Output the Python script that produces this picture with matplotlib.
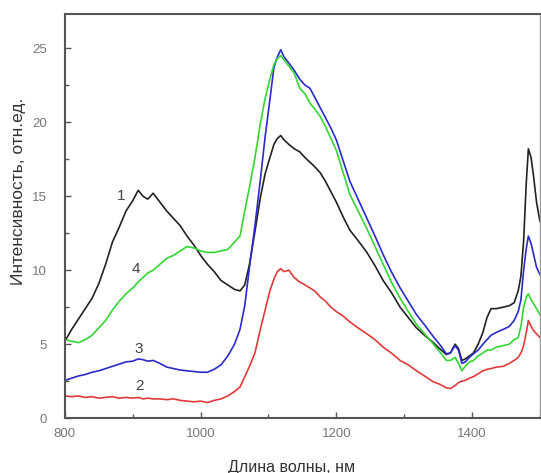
import matplotlib
matplotlib.use("Agg")
import matplotlib.pyplot as plt
from matplotlib.ticker import MultipleLocator

wavelength = [800, 810, 820, 830, 840, 850, 860, 870, 880, 890,
              900, 908, 915, 922, 930, 940, 950, 960, 970, 980,
              990, 1000, 1010, 1020, 1030, 1040, 1050, 1058, 1065, 1072,
              1080, 1088, 1095, 1102, 1108, 1113, 1118, 1123, 1130, 1138,
              1146, 1154, 1161, 1168, 1176, 1184, 1192, 1200, 1210, 1220,
              1232, 1245, 1257, 1269, 1281, 1294, 1306, 1318, 1330, 1343,
              1352, 1362, 1368, 1375, 1380, 1385, 1390, 1396, 1402, 1409,
              1416, 1422, 1428, 1436, 1446, 1455, 1462, 1468, 1472, 1476,
              1480, 1483, 1487, 1491, 1495, 1500]

curve1 = [5.2, 6.0, 6.7, 7.4, 8.1, 9.1, 10.4, 11.9, 12.9, 14.0,
          14.7, 15.4, 15.0, 14.8, 15.2, 14.6, 14.0, 13.5, 13.0, 12.3,
          11.7, 11.0, 10.4, 9.9, 9.3, 9.0, 8.7, 8.6, 9.0, 10.4,
          12.6, 14.9, 16.5, 17.6, 18.5, 18.9, 19.1, 18.8, 18.5, 18.2,
          18.0, 17.6, 17.3, 17.0, 16.6, 16.0, 15.3, 14.6, 13.6, 12.7,
          12.0, 11.2, 10.3, 9.3, 8.5, 7.5, 6.8, 6.1, 5.6, 5.1,
          4.7, 4.3, 4.4, 5.0, 4.7, 3.9, 4.0, 4.2, 4.4, 5.0,
          5.8, 6.8, 7.4, 7.4, 7.5, 7.6, 7.8, 8.6, 9.6, 12.0,
          16.0, 18.2, 17.6, 16.2, 14.6, 13.3]

curve2 = [1.5, 1.45, 1.5, 1.4, 1.45, 1.35, 1.4, 1.45, 1.35, 1.4,
          1.35, 1.4, 1.3, 1.35, 1.3, 1.3, 1.25, 1.3, 1.2, 1.15,
          1.1, 1.15, 1.05, 1.2, 1.3, 1.5, 1.8, 2.1, 2.8, 3.5,
          4.4, 6.0, 7.3, 8.6, 9.4, 9.9, 10.1, 9.9, 10.0, 9.5,
          9.2, 9.0, 8.8, 8.6, 8.2, 7.9, 7.5, 7.2, 6.9, 6.5,
          6.1, 5.7, 5.3, 4.8, 4.4, 3.9, 3.6, 3.2, 2.85, 2.45,
          2.3, 2.05, 2.0, 2.2, 2.4, 2.5, 2.55, 2.7, 2.8, 3.0,
          3.2, 3.3, 3.35, 3.45, 3.5, 3.7, 3.9, 4.1, 4.4, 4.9,
          5.8, 6.6, 6.2, 5.9, 5.7, 5.45]

curve3 = [2.55, 2.7, 2.85, 2.95, 3.1, 3.2, 3.35, 3.5, 3.65, 3.8,
          3.85, 4.0, 3.95, 3.85, 3.9, 3.7, 3.45, 3.35, 3.25, 3.2,
          3.15, 3.1, 3.1, 3.3, 3.6, 4.2, 5.0, 6.0, 7.6, 10.2,
          13.0, 16.1, 19.0, 21.5, 23.7, 24.4, 24.9, 24.4, 24.0, 23.5,
          22.9, 22.5, 22.3, 21.7, 21.0, 20.3, 19.6, 18.8, 17.4, 16.0,
          14.8, 13.5, 12.3, 11.05, 9.9, 8.8, 7.9, 7.0, 6.3, 5.5,
          5.0, 4.35, 4.4, 4.9, 4.6, 3.7, 3.8, 4.1, 4.35, 4.6,
          5.0, 5.3, 5.6, 5.8, 6.0, 6.2, 6.6, 7.2, 8.0, 10.0,
          11.5, 12.3, 11.8, 11.0, 10.2, 9.7]

curve4 = [5.3, 5.2, 5.1, 5.3, 5.6, 6.1, 6.6, 7.3, 7.9, 8.4,
          8.8, 9.2, 9.5, 9.8, 10.0, 10.4, 10.8, 11.0, 11.3, 11.6,
          11.5, 11.3, 11.2, 11.2, 11.3, 11.4, 11.9, 12.3, 14.0, 15.6,
          17.6, 19.9, 21.6, 22.9, 23.9, 24.3, 24.5, 24.2, 23.8, 23.3,
          22.3, 21.9, 21.3, 20.9, 20.4, 19.7, 18.9, 18.1, 16.6, 15.1,
          14.0, 12.8, 11.6, 10.4, 9.2, 8.1, 7.2, 6.35, 5.7, 5.0,
          4.5, 3.9, 3.9, 4.1, 3.7, 3.2, 3.5, 3.8, 3.9, 4.2,
          4.4, 4.6, 4.6, 4.8, 4.9, 5.0, 5.3, 5.45, 6.2, 7.5,
          8.2, 8.4, 8.0, 7.7, 7.4, 7.0]

curve_labels = ["1", "2", "3", "4"]
label_pos_x = [883, 910, 908, 905]
label_pos_y = [15.0, 2.2, 4.7, 10.1]
colors = ["#222222", "#e03a3a", "#2a2ac8", "#33d633"]

xticks = [800, 1000, 1200, 1400]
yticks = [0, 5, 10, 15, 20, 25]

plt.rcParams['font.family'] = ['Liberation Sans', 'DejaVu Sans']

fig = plt.figure(figsize=(5.41, 4.73), dpi=100)
ax = fig.add_axes([0.120, 0.116, 0.878, 0.854])

series = [curve1, curve2, curve3, curve4]
for ys, c in zip(series, colors):
    ax.plot(wavelength, ys, color=c, lw=1.2)

for t, x, y in zip(curve_labels, label_pos_x, label_pos_y):
    ax.text(x, y, t, fontsize=11, color="#444444", ha="center", va="center")

ax.set_xlim(800, 1500)
ax.set_ylim(0, 27.3)
ax.set_xticks(xticks)
ax.set_yticks(yticks)
ax.xaxis.set_minor_locator(MultipleLocator(100))
ax.yaxis.set_minor_locator(MultipleLocator(2.5))
ax.tick_params(which="both", direction="in", colors="#555555", labelcolor="#777777", labelsize=9.5)
ax.tick_params(which="major", length=4, width=1)
ax.tick_params(which="minor", length=3, width=1)
ax.tick_params(axis="x", pad=7)
ax.tick_params(axis="y", pad=13)
for s in ax.spines.values():
    s.set_color("#555555")
    s.set_linewidth(1.5)
ax.spines["right"].set_linewidth(1.0)
ax.spines["right"].set_color("#999999")

ax.set_xlabel("Длина волны, нм", fontsize=11.5, color="#333333")
ax.set_ylabel("Интенсивность, отн.ед.", fontsize=12.5, color="#333333")
ax.xaxis.set_label_coords(0.478, -0.121)
ax.yaxis.set_label_coords(-0.097, 0.562)
ax.xaxis.label.set_va("center")
ax.yaxis.label.set_va("center")

fig.savefig("out.png", dpi=100)
